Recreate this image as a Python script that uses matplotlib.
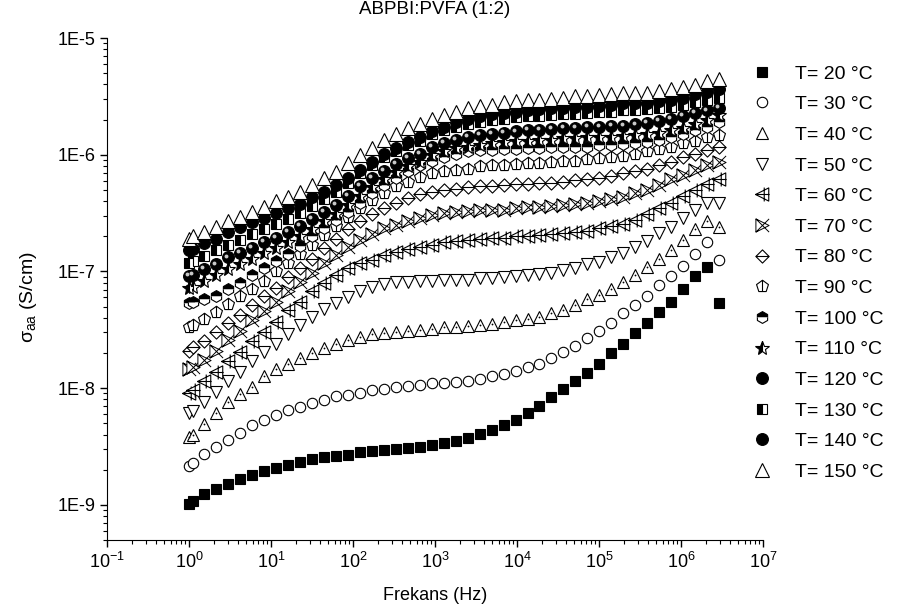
import numpy as np
import matplotlib
matplotlib.use('Agg')
import matplotlib.pyplot as plt
from matplotlib.path import Path
from matplotlib.ticker import FixedLocator, FuncFormatter, LogLocator, NullFormatter
from matplotlib.transforms import offset_copy

plt.rcParams['font.family'] = ['Liberation Sans', 'DejaVu Sans']
plt.rcParams['font.size'] = 13
plt.rcParams['axes.unicode_minus'] = False

# frequency (Hz)
freq = [1.0, 1.12, 1.52, 2.13, 2.99, 4.18, 5.85, 8.20, 11.5, 16.1, 22.5, 31.5,
        44.1, 61.7, 86.3, 121, 169, 237, 332, 465, 650, 910, 1274, 1782, 2495,
        3491, 4887, 6850, 9590, 13430, 18790, 26300, 36810, 51520, 72110,
        100900, 141300, 198200, 277300, 388200, 543300, 760300, 1064000,
        1489000, 2084000, 2917000]

temps = [20, 30, 40, 50, 60, 70, 80, 90, 100, 110, 120, 130, 140, 150]

# log10 of conductivity (S/cm)
log_s20 = [-8.99, -8.97, -8.91, -8.86, -8.82, -8.78, -8.74, -8.71, -8.68, -8.66,
           -8.63, -8.61, -8.59, -8.58, -8.57, -8.55, -8.54, -8.53, -8.52, -8.51,
           -8.50, -8.49, -8.47, -8.45, -8.43, -8.39, -8.36, -8.32, -8.27, -8.21,
           -8.15, -8.08, -8.01, -7.94, -7.87, -7.79, -7.70, -7.62, -7.53, -7.44,
           -7.35, -7.26, -7.15, -7.04, -6.96, -7.27]
log_s30 = [-8.67, -8.64, -8.56, -8.50, -8.44, -8.38, -8.32, -8.27, -8.23, -8.19,
           -8.16, -8.13, -8.10, -8.07, -8.06, -8.04, -8.02, -8.01, -7.99, -7.98,
           -7.97, -7.96, -7.96, -7.95, -7.94, -7.92, -7.90, -7.88, -7.85, -7.82,
           -7.79, -7.74, -7.69, -7.64, -7.57, -7.51, -7.44, -7.36, -7.29, -7.21,
           -7.12, -7.04, -6.95, -6.85, -6.75, -6.90]
log_s40 = [-8.42, -8.40, -8.31, -8.21, -8.12, -8.05, -7.99, -7.90, -7.84, -7.79,
           -7.74, -7.70, -7.66, -7.62, -7.59, -7.56, -7.54, -7.53, -7.52, -7.51,
           -7.50, -7.49, -7.48, -7.48, -7.47, -7.46, -7.45, -7.43, -7.42, -7.41,
           -7.39, -7.36, -7.33, -7.29, -7.24, -7.20, -7.15, -7.09, -7.03, -6.96,
           -6.89, -6.82, -6.73, -6.64, -6.57, -6.62]
log_s50 = [-8.21, -8.20, -8.12, -8.03, -7.94, -7.86, -7.77, -7.69, -7.62, -7.54,
           -7.46, -7.39, -7.32, -7.27, -7.22, -7.17, -7.13, -7.11, -7.09, -7.09,
           -7.08, -7.08, -7.07, -7.07, -7.07, -7.06, -7.06, -7.05, -7.04, -7.03,
           -7.02, -7.01, -6.99, -6.97, -6.94, -6.92, -6.88, -6.84, -6.79, -6.74,
           -6.67, -6.62, -6.54, -6.47, -6.41, -6.41]
log_s60 = [-8.04, -8.02, -7.94, -7.86, -7.77, -7.69, -7.60, -7.52, -7.43, -7.33,
           -7.26, -7.17, -7.10, -7.03, -6.97, -6.93, -6.90, -6.86, -6.83, -6.81,
           -6.79, -6.77, -6.75, -6.74, -6.73, -6.72, -6.71, -6.71, -6.70, -6.70,
           -6.69, -6.68, -6.67, -6.66, -6.65, -6.63, -6.61, -6.59, -6.56, -6.51,
           -6.46, -6.41, -6.35, -6.30, -6.25, -6.21]
log_s70 = [-7.84, -7.82, -7.76, -7.68, -7.59, -7.51, -7.42, -7.34, -7.26, -7.17,
           -7.09, -7.01, -6.93, -6.86, -6.79, -6.73, -6.68, -6.63, -6.60, -6.57,
           -6.54, -6.52, -6.50, -6.49, -6.48, -6.47, -6.47, -6.47, -6.46, -6.45,
           -6.45, -6.44, -6.43, -6.42, -6.41, -6.40, -6.38, -6.36, -6.33, -6.30,
           -6.26, -6.21, -6.17, -6.13, -6.09, -6.06]
log_s80 = [-7.68, -7.65, -7.60, -7.52, -7.44, -7.37, -7.29, -7.21, -7.14, -7.05,
           -6.97, -6.89, -6.80, -6.72, -6.64, -6.57, -6.51, -6.46, -6.41, -6.37,
           -6.34, -6.32, -6.30, -6.29, -6.28, -6.27, -6.27, -6.26, -6.25, -6.25,
           -6.24, -6.24, -6.23, -6.22, -6.21, -6.20, -6.18, -6.16, -6.14, -6.12,
           -6.09, -6.06, -6.02, -5.99, -5.96, -5.93]
log_s90 = [-7.48, -7.46, -7.41, -7.35, -7.28, -7.21, -7.15, -7.08, -7.00, -6.93,
           -6.85, -6.77, -6.69, -6.61, -6.53, -6.46, -6.39, -6.33, -6.27, -6.23,
           -6.19, -6.16, -6.14, -6.13, -6.12, -6.10, -6.09, -6.09, -6.08, -6.07,
           -6.07, -6.06, -6.05, -6.05, -6.04, -6.03, -6.02, -6.01, -5.99, -5.97,
           -5.95, -5.93, -5.90, -5.88, -5.85, -5.83]
log_s100 = [-7.27, -7.26, -7.24, -7.21, -7.15, -7.10, -7.03, -6.97, -6.91, -6.85,
            -6.78, -6.70, -6.63, -6.56, -6.49, -6.41, -6.33, -6.26, -6.20, -6.14,
            -6.09, -6.05, -6.02, -5.99, -5.97, -5.96, -5.96, -5.95, -5.95, -5.94,
            -5.94, -5.93, -5.93, -5.93, -5.93, -5.92, -5.92, -5.91, -5.90, -5.89,
            -5.87, -5.85, -5.82, -5.79, -5.76, -5.72]
log_s110 = [-7.14, -7.13, -7.08, -7.03, -6.98, -6.94, -6.89, -6.84, -6.80, -6.75,
            -6.70, -6.64, -6.57, -6.51, -6.43, -6.35, -6.28, -6.21, -6.15, -6.10,
            -6.06, -6.00, -5.97, -5.94, -5.93, -5.92, -5.90, -5.89, -5.88, -5.88,
            -5.87, -5.87, -5.86, -5.86, -5.85, -5.85, -5.85, -5.84, -5.83, -5.82,
            -5.81, -5.79, -5.77, -5.74, -5.70, -5.66]
log_s120 = [-7.04, -7.03, -6.98, -6.94, -6.88, -6.84, -6.80, -6.75, -6.71, -6.66,
            -6.61, -6.55, -6.49, -6.43, -6.35, -6.27, -6.20, -6.14, -6.08, -6.03,
            -5.99, -5.93, -5.90, -5.87, -5.85, -5.83, -5.82, -5.81, -5.80, -5.79,
            -5.79, -5.78, -5.77, -5.77, -5.76, -5.76, -5.75, -5.75, -5.74, -5.73,
            -5.71, -5.69, -5.67, -5.64, -5.62, -5.60]
log_s130 = [-6.93, -6.91, -6.87, -6.82, -6.77, -6.73, -6.68, -6.64, -6.59, -6.55,
            -6.50, -6.44, -6.38, -6.32, -6.24, -6.16, -6.09, -6.02, -5.97, -5.92,
            -5.88, -5.82, -5.79, -5.76, -5.74, -5.72, -5.70, -5.69, -5.68, -5.67,
            -5.67, -5.66, -5.65, -5.65, -5.64, -5.63, -5.63, -5.62, -5.62, -5.61,
            -5.60, -5.59, -5.57, -5.55, -5.53, -5.51]
log_s140 = [-6.82, -6.81, -6.76, -6.72, -6.66, -6.62, -6.58, -6.54, -6.50, -6.46,
            -6.42, -6.36, -6.32, -6.26, -6.20, -6.13, -6.06, -5.99, -5.94, -5.89,
            -5.85, -5.80, -5.76, -5.72, -5.69, -5.67, -5.65, -5.64, -5.63, -5.62,
            -5.61, -5.60, -5.60, -5.59, -5.59, -5.58, -5.57, -5.56, -5.56, -5.56,
            -5.54, -5.53, -5.51, -5.48, -5.46, -5.44]
log_s150 = [-6.72, -6.70, -6.66, -6.62, -6.57, -6.53, -6.49, -6.45, -6.40, -6.36,
            -6.32, -6.26, -6.20, -6.15, -6.07, -6.00, -5.94, -5.87, -5.82, -5.77,
            -5.74, -5.69, -5.66, -5.63, -5.60, -5.58, -5.57, -5.55, -5.54, -5.53,
            -5.53, -5.52, -5.51, -5.50, -5.50, -5.49, -5.48, -5.47, -5.47, -5.47,
            -5.45, -5.44, -5.42, -5.40, -5.37, -5.35]

series = [log_s20, log_s30, log_s40, log_s50, log_s60, log_s70, log_s80,
          log_s90, log_s100, log_s110, log_s120, log_s130, log_s140, log_s150]


def make_marker(poly, segs):
    # closed outline plus loose line segments, Origin-like symbols
    verts, codes = [], []
    if poly:
        verts += poly + [poly[0]]
        codes += [Path.MOVETO] + [Path.LINETO] * (len(poly) - 1) + [Path.CLOSEPOLY]
    for a, b in segs:
        verts += [a, b]
        codes += [Path.MOVETO, Path.LINETO]
    return Path(verts, codes)


m60 = make_marker([(-1, 0), (0.9, 0.95), (0.9, -0.95)],
                  [((0.25, -1), (0.25, 1)), ((-1, 0), (1, 0))])
m70 = make_marker([(-1, 1), (1, 0), (-1, -1)],
                  [((-1, 1), (1, -1)), ((-1, -1), (1, 1))])
m80 = make_marker([(0, 1), (1, 0), (0, -1), (-1, 0)], [((-1, 0), (1, 0))])
m90 = make_marker([(0, 1), (-0.951, 0.309), (-0.588, -0.809), (0.588, -0.809), (0.951, 0.309)],
                  [((0, 1), (0, -0.809))])

ew = 0.8
styles = [
    dict(marker='s', ms=6.5, mfc='black', mec='black', mew=ew),
    dict(marker='o', ms=7.5, mfc='white', mec='black', mew=ew),
    dict(marker='^', ms=8, mfc='white', mec='black', mew=ew),
    dict(marker='v', ms=8, mfc='white', mec='black', mew=ew),
    dict(marker=m60, ms=10, mfc='white', mec='black', mew=ew),
    dict(marker=m70, ms=9.5, mfc='white', mec='black', mew=0.7),
    dict(marker=m80, ms=9.5, mfc='white', mec='black', mew=ew),
    dict(marker=m90, ms=9, mfc='white', mec='black', mew=ew),
    dict(marker='h', ms=8.5, mfc='black', mfcalt='white', fillstyle='top', mec='black', mew=ew),
    dict(marker='*', ms=10.5, mfc='black', mfcalt='white', fillstyle='left', mec='black', mew=ew),
    dict(marker='o', ms=8.5, mfc='black', mec='black', mew=ew),
    dict(marker='s', ms=7, mfc='black', mfcalt='white', fillstyle='left', mec='black', mew=ew),
    dict(marker='o', ms=8.5, mfc='black', mec='black', mew=ew),
    dict(marker='^', ms=10, mfc='white', mec='black', mew=ew),
]

fig = plt.figure(figsize=(9.04, 6.13), dpi=100)
ax = fig.add_axes([107 / 904, 73 / 613, 656 / 904, 502 / 613])
ax.set_xscale('log')
ax.set_yscale('log')
ax.set_xlim(0.1, 1e7)
ax.set_ylim(5e-10, 1e-5)

for t, ls, st in zip(temps, series, styles):
    sig = 10 ** np.array(ls)
    ax.plot(freq, sig, linestyle='none', label=f'T= {t} \u00b0C', **st)
    if t == 40:
        ax.plot(freq, sig, linestyle='none', marker='o', ms=1.3, mfc='black', mec='none')
    if t == 120:
        hl = offset_copy(ax.transData, fig=fig, x=-1.3, y=1.3, units='points')
        ax.plot(freq, sig, linestyle='none', marker='o', ms=2.8, mfc='#c8c8c8',
                mec='none', transform=hl)

ax.spines['top'].set_visible(False)
ax.spines['right'].set_visible(False)
ax.xaxis.set_major_locator(LogLocator(base=10, numticks=20))
ax.xaxis.set_minor_locator(LogLocator(base=10, subs=np.arange(2, 10), numticks=20))
ax.xaxis.set_minor_formatter(NullFormatter())
ax.yaxis.set_major_locator(FixedLocator([1e-9, 1e-8, 1e-7, 1e-6, 1e-5]))
ax.yaxis.set_major_formatter(FuncFormatter(lambda v, p: '1E%d' % round(np.log10(v))))
ax.yaxis.set_minor_locator(LogLocator(base=10, subs=np.arange(2, 10), numticks=20))
ax.yaxis.set_minor_formatter(NullFormatter())
ax.tick_params(which='major', direction='out', length=5, width=1, labelsize=13)
ax.tick_params(which='minor', direction='out', length=3, width=0.8)

fig.text(435 / 904, 1 - 10 / 613, 'ABPBI:PVFA (1:2)', ha='center', va='center', fontsize=13.5)
fig.text(435 / 904, 1 - 596 / 613, 'Frekans (Hz)', ha='center', va='center', fontsize=13)
fig.text(29 / 904, 1 - 297 / 613, '\u03c3$_{\\mathdefault{aa}}$ (S/cm)', ha='center', va='center',
         rotation=90, fontsize=14)

ax.legend(loc='upper left', bbox_to_anchor=(752 / 904, 1 - 65 / 613), bbox_transform=fig.transFigure,
          frameon=False, borderpad=0, borderaxespad=0, handlelength=1.0, handletextpad=1.2,
          labelspacing=0.67, fontsize=14, numpoints=1)

fig.savefig('out.png', dpi=100)
